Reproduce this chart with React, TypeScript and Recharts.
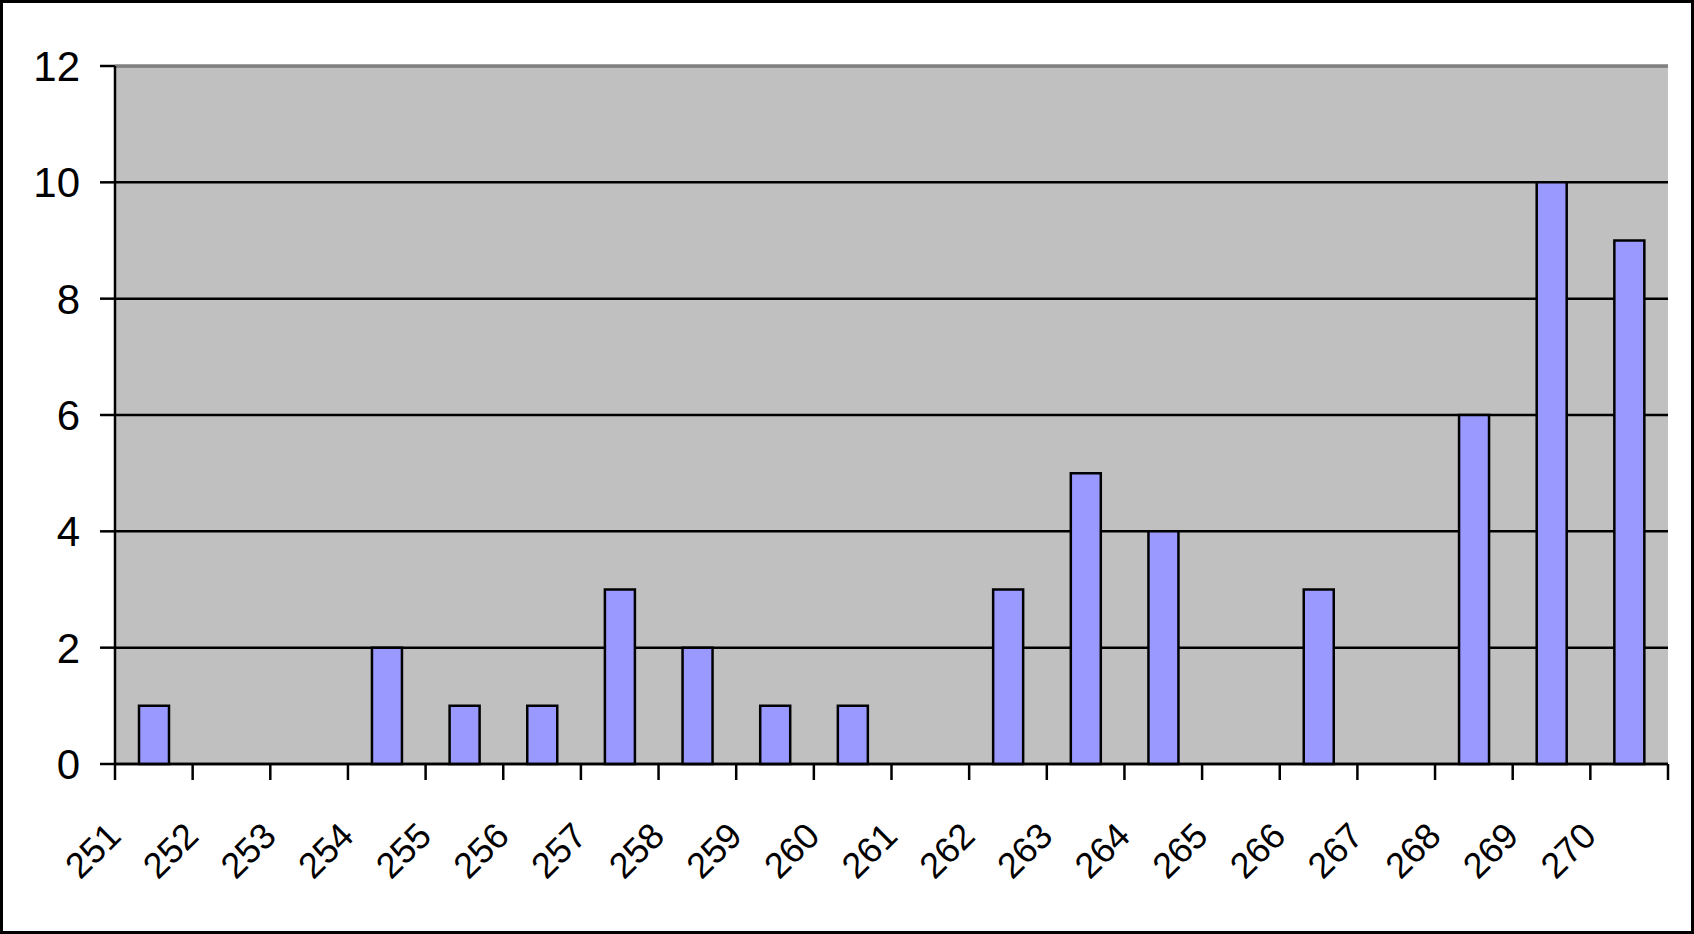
import React from 'react';
import { BarChart, Bar, XAxis, YAxis, CartesianGrid, ReferenceLine } from 'recharts';

// categories along the x axis
const categories = ['251', '252', '253', '254', '255', '256', '257', '258', '259', '260',
  '261', '262', '263', '264', '265', '266', '267', '268', '269', '270'];
// number per category
const counts = [1, 0, 0, 2, 1, 1, 3, 2, 1, 1, 0, 3, 5, 4, 0, 3, 0, 6, 10, 9];
const yTicks = [0, 2, 4, 6, 8, 10, 12];

const data = categories.map((c, i) => ({ name: c, value: counts[i] }));

const FONT = '"Liberation Sans", Arial, sans-serif';

// tick mark at the slot boundaries plus a rotated label
const XTick = (props: any) => {
  const { x, y, payload, index, visibleTicksCount, width } = props;
  const half = payload && payload.offset ? payload.offset : width / visibleTicksCount / 2;
  const isLast = index === visibleTicksCount - 1;
  const lx = x - 31;
  const ly = y + 74;
  return (
    <g>
      <line x1={x - half} y1={y} x2={x - half} y2={y + 16} stroke="#000" strokeWidth={2.5} />
      {isLast && <line x1={x + half} y1={y} x2={x + half} y2={y + 16} stroke="#000" strokeWidth={2.5} />}
      <text
        x={lx}
        y={ly}
        textAnchor="end"
        fontSize={36}
        fontFamily={FONT}
        fill="#000"
        transform={`rotate(-45 ${lx} ${ly})`}
      >
        {payload.value}
      </text>
    </g>
  );
};

const App: React.FC = () => {
  return (
    <div style={{ position: 'absolute', left: 0, top: 0, width: 1694, height: 934, background: '#fff' }}>
      <BarChart
        width={1694}
        height={934}
        data={data}
        margin={{ top: 66, right: 26, left: 15, bottom: 0 }}
        barSize={30}
      >
        <CartesianGrid vertical={false} horizontal stroke="#000" strokeWidth={2.5} fill="#c0c0c0" fillOpacity={1} />
        <ReferenceLine y={12} stroke="#808080" strokeWidth={3} />
        <XAxis
          dataKey="name"
          height={170}
          tickLine={false}
          tickSize={0}
          tickMargin={0}
          interval={0}
          axisLine={{ stroke: '#000', strokeWidth: 2.5 }}
          tick={<XTick />}
        />
        <YAxis
          width={100}
          domain={[0, 12]}
          ticks={yTicks}
          interval={0}
          tickSize={15}
          tickMargin={20}
          axisLine={{ stroke: '#000', strokeWidth: 2.5 }}
          tickLine={{ stroke: '#000', strokeWidth: 2.5 }}
          tick={{ fill: '#000', fontSize: 42, fontFamily: FONT }}
        />
        <YAxis
          yAxisId="frame"
          orientation="right"
          width={0}
          domain={[0, 12]}
          tick={false}
          tickLine={false}
          axisLine={{ stroke: '#808080', strokeWidth: 3 }}
        />
        <Bar dataKey="value" fill="#9999ff" stroke="#000" strokeWidth={2.5} isAnimationActive={false} />
      </BarChart>
      <div style={{ position: 'absolute', left: 0, top: 0, width: 1694, height: 934, border: '3px solid #000', boxSizing: 'border-box', pointerEvents: 'none' }} />
    </div>
  );
};

export default App;
